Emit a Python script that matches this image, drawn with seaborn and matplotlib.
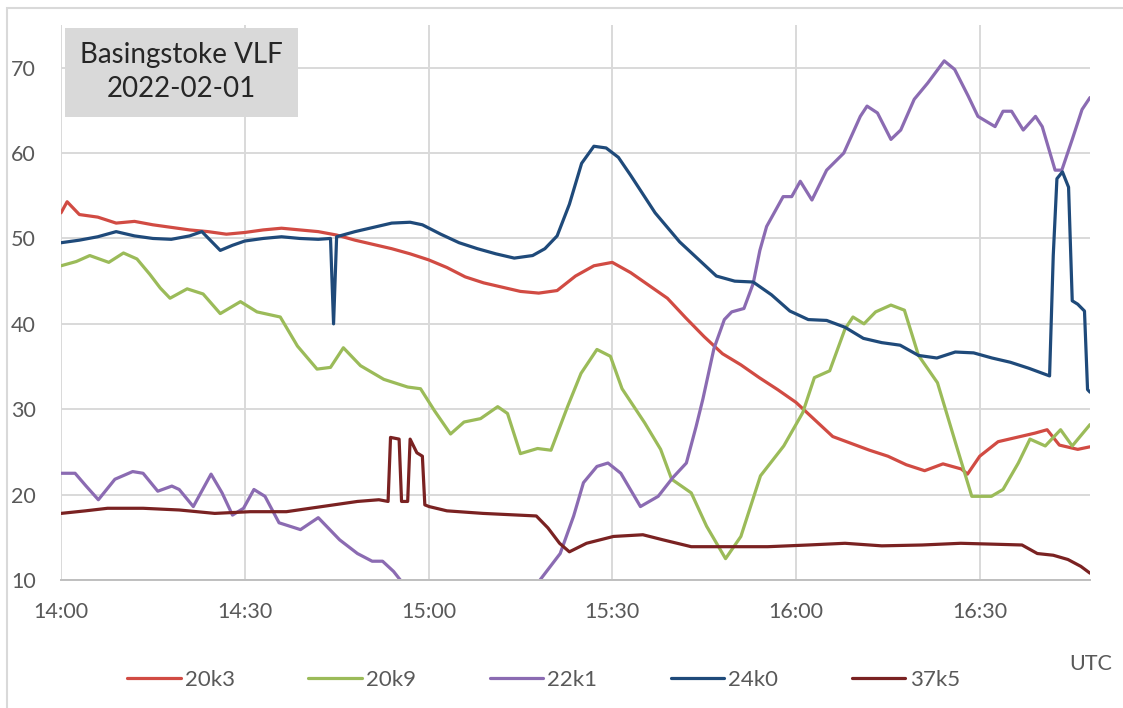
import pandas as pd
import seaborn as sns
import matplotlib.pyplot as plt
from matplotlib.patches import Rectangle

# minutes after 14:00 UTC, signal level
t_20k3 = [0, 1, 3, 6, 9, 12, 15, 18, 21, 24, 27, 30, 33, 36, 39, 42, 45, 48, 51, 54,
          57, 60, 63, 66, 69, 72, 75, 78, 81, 84, 87, 90, 93, 96, 99, 102, 105, 108,
          111, 114, 117, 120, 123, 126, 129, 132, 135, 138, 141, 144, 147, 148, 150,
          153, 156, 159, 161, 163, 166, 168]
v_20k3 = [53, 54.3, 52.8, 52.5, 51.8, 52, 51.6, 51.3, 51, 50.8, 50.5, 50.7, 51, 51.2,
          51, 50.8, 50.4, 49.8, 49.3, 48.8, 48.2, 47.5, 46.6, 45.5, 44.8, 44.3, 43.8,
          43.6, 43.9, 45.6, 46.8, 47.2, 46, 44.5, 43, 40.7, 38.5, 36.5, 35.2, 33.7,
          32.3, 30.8, 28.8, 26.8, 26, 25.2, 24.5, 23.5, 22.8, 23.6, 23, 22.4, 24.5,
          26.2, 26.7, 27.2, 27.6, 25.8, 25.3, 25.6]

t_20k9 = [0, 2.5, 4.7, 7.8, 10.2, 12.4, 14.5, 16.2, 17.8, 20.6, 23.2, 26, 29.3, 32,
          35.8, 38.6, 41.8, 44, 46.1, 48.9, 52.7, 56.6, 58.7, 61, 63.6, 65.8, 68.5,
          71.3, 72.9, 75, 77.8, 80, 82.7, 84.9, 87.5, 89.7, 91.6, 95.3, 97.9, 99.7,
          102.9, 105.4, 108.5, 111, 114.2, 118, 121.1, 123, 125.5, 128, 129.3, 131.1,
          133, 135.5, 137.7, 140, 143.1, 146.2, 148.7, 151.9, 153.8, 156.3, 158.2,
          160.7, 163.2, 165.1, 168]
v_20k9 = [46.8, 47.3, 48, 47.2, 48.3, 47.6, 45.8, 44.2, 43, 44.1, 43.5, 41.2, 42.6,
          41.4, 40.8, 37.4, 34.7, 34.9, 37.2, 35.1, 33.5, 32.6, 32.4, 29.8, 27.1, 28.5,
          28.9, 30.3, 29.5, 24.8, 25.4, 25.2, 30.3, 34.2, 37, 36.2, 32.4, 28.4, 25.3,
          21.8, 20.2, 16.3, 12.5, 15.1, 22.2, 25.7, 29.6, 33.7, 34.5, 39.4, 40.8, 40,
          41.4, 42.2, 41.6, 36.3, 33.1, 25.7, 19.8, 19.8, 20.6, 23.7, 26.5, 25.7, 27.6,
          25.7, 28.2]

t_22k1 = [0, 2.3, 4.1, 6.1, 8.8, 11.7, 13.4, 15.8, 18.1, 19.3, 21.6, 24.5, 26.3, 28,
          29.8, 31.5, 33.3, 35.6, 39.1, 42, 45.5, 48.4, 50.8, 52.5, 54.3, 55.4, 57, 67,
          76, 78.2, 81.5, 83.7, 85.3, 87.5, 89.3, 91.4, 94.6, 97.5, 99.9, 102.1, 103.7,
          104.8, 106.6, 108.3, 109.5, 111.5, 113, 114.1, 115.2, 117.9, 119.3, 120.7,
          122.6, 125, 127.8, 130.5, 131.6, 133.3, 135.5, 137.1, 139.3, 141.5, 144.2,
          145.9, 148.1, 149.7, 152.5, 153.8, 155.2, 157.1, 159.1, 160.2, 162.3, 163.4,
          165.1, 166.7, 168]
v_22k1 = [22.5, 22.5, 21, 19.4, 21.8, 22.7, 22.5, 20.4, 21, 20.6, 18.6, 22.4, 20.2,
          17.6, 18.4, 20.6, 19.8, 16.7, 15.9, 17.3, 14.7, 13.1, 12.2, 12.2, 11, 10, 8.5,
          4, 8.5, 10, 13.1, 17.5, 21.4, 23.3, 23.7, 22.5, 18.6, 19.8, 22, 23.7, 28, 31.2,
          37.1, 40.5, 41.4, 41.8, 44.7, 48.6, 51.4, 54.9, 54.9, 56.7, 54.5, 58, 60, 64.3,
          65.5, 64.7, 61.6, 62.7, 66.3, 68.2, 70.8, 69.8, 66.7, 64.3, 63.1, 64.9, 64.9,
          62.7, 64.3, 63.1, 58, 58, 61.6, 65.1, 66.5]

t_24k0 = [0, 3, 6, 9, 12, 15, 18, 21, 23, 26, 28, 30, 33, 36, 39, 42, 44, 44.5, 45, 48,
          51, 54, 57, 59, 62, 65, 68, 71, 74, 77, 79, 81, 83, 85, 87, 89, 91, 93, 95, 97,
          99, 101, 104, 107, 110, 113, 116, 119, 122, 125, 128, 131, 134, 137, 140, 143,
          146, 149, 152, 155, 158, 161.4, 162, 162.6, 163.5, 164.5, 165.1, 166, 167.1,
          167.6, 168]
v_24k0 = [49.5, 49.8, 50.2, 50.8, 50.3, 50, 49.9, 50.3, 50.8, 48.6, 49.2, 49.7, 50,
          50.2, 50, 49.9, 50, 40, 50.2, 50.8, 51.3, 51.8, 51.9, 51.6, 50.5, 49.5, 48.8,
          48.2, 47.7, 48, 48.8, 50.3, 54, 58.8, 60.8, 60.6, 59.5, 57.4, 55.2, 53, 51.3,
          49.6, 47.6, 45.6, 45, 44.9, 43.4, 41.5, 40.5, 40.4, 39.6, 38.3, 37.8, 37.5,
          36.3, 36, 36.7, 36.6, 36, 35.5, 34.8, 33.9, 48, 57, 57.8, 56, 42.7, 42.3, 41.5,
          32.3, 32]

t_37k5 = [0, 4, 7.6, 13.4, 19.3, 25.1, 30.9, 36.8, 42.6, 48.4, 51.9, 53.4, 53.8, 55.2,
          55.6, 56.6, 57, 58.1, 59, 59.4, 60.1, 63, 68.9, 74.7, 77.6, 79.5, 81.4, 83,
          85.8, 90.2, 95, 98.3, 102.9, 108, 115.4, 122, 128, 134, 140.6, 146.9, 152,
          156.9, 159.4, 162, 164.4, 166.5, 168]
v_37k5 = [17.8, 18.1, 18.4, 18.4, 18.2, 17.8, 18, 18, 18.6, 19.2, 19.4, 19.2, 26.7,
          26.5, 19.2, 19.2, 26.5, 24.9, 24.5, 18.8, 18.6, 18.1, 17.8, 17.6, 17.5, 16.1,
          14.3, 13.3, 14.3, 15.1, 15.3, 14.7, 13.9, 13.9, 13.9, 14.1, 14.3, 14, 14.1,
          14.3, 14.2, 14.1, 13.1, 12.9, 12.4, 11.6, 10.8]

series = ['20k3', '20k9', '22k1', '24k0', '37k5']
colors = ['#d14b43', '#9bbb59', '#8b6bb2', '#1f4a7a', '#7a2222']
tick_pos = [0, 30, 60, 90, 120, 150]
tick_lab = ['14:00', '14:30', '15:00', '15:30', '16:00', '16:30']

frames = []
for name, t, v in zip(series, [t_20k3, t_20k9, t_22k1, t_24k0, t_37k5],
                      [v_20k3, v_20k9, v_22k1, v_24k0, v_37k5]):
    frames.append(pd.DataFrame({'t': t, 'v': v, 'series': name}))
df = pd.concat(frames, ignore_index=True)

sns.set_theme(style='white')
plt.rcParams['font.family'] = ['Lato', 'DejaVu Sans']

fig = plt.figure(figsize=(11.23, 7.08), dpi=100)
ax = fig.add_axes([61 / 1123, 1 - 580 / 708, (1090 - 61) / 1123, (580 - 25) / 708])

sns.lineplot(data=df, x='t', y='v', hue='series', palette=colors, estimator=None,
             linewidth=2.3, ax=ax)

ax.set_xlim(0, 168)
ax.set_ylim(10, 75)
ax.set_xticks(tick_pos)
ax.set_xticklabels(tick_lab)
ax.set_yticks([10, 20, 30, 40, 50, 60, 70])
ax.set_xlabel('')
ax.set_ylabel('')
ax.grid(True, color='#d9d9d9', lw=1.4)
ax.set_axisbelow(True)
for s in ['top', 'right', 'left']:
    ax.spines[s].set_visible(False)
ax.spines['bottom'].set_color('#bfbfbf')
ax.spines['bottom'].set_linewidth(1.4)
ax.tick_params(axis='both', length=0, labelsize=15.5, labelcolor='#595959')
ax.tick_params(axis='x', pad=16)
ax.tick_params(axis='y', pad=18)

handles, labels = ax.get_legend_handles_labels()
ax.get_legend().remove()
fig.legend(handles, labels, ncol=5, loc='center', bbox_to_anchor=(0.484, 1 - 680 / 708),
           frameon=False, fontsize=16, handlelength=2.4, handletextpad=0.2,
           columnspacing=3.3, labelcolor='#595959')

fig.text(1112 / 1123, 1 - 664 / 708, 'UTC', ha='right', va='center', fontsize=15.5,
         color='#595959')

# title box
fig.patches.append(Rectangle((65 / 1123, 1 - 117 / 708), 233 / 1123, 89 / 708,
                             transform=fig.transFigure, facecolor='#d9d9d9',
                             edgecolor='none', zorder=5))
fig.text(181 / 1123, 1 - 72 / 708, 'Basingstoke VLF\n2022-02-01', ha='center',
         va='center', fontsize=20, color='#262626', linespacing=1.35, zorder=6)

# chart area border
fig.patches.append(Rectangle((7 / 1123, -0.05), 1.1, 1 - 8 / 708 + 0.05,
                             transform=fig.transFigure, facecolor='none',
                             edgecolor='#d9d9d9', lw=1.5))

fig.savefig('out.png', dpi=100)
